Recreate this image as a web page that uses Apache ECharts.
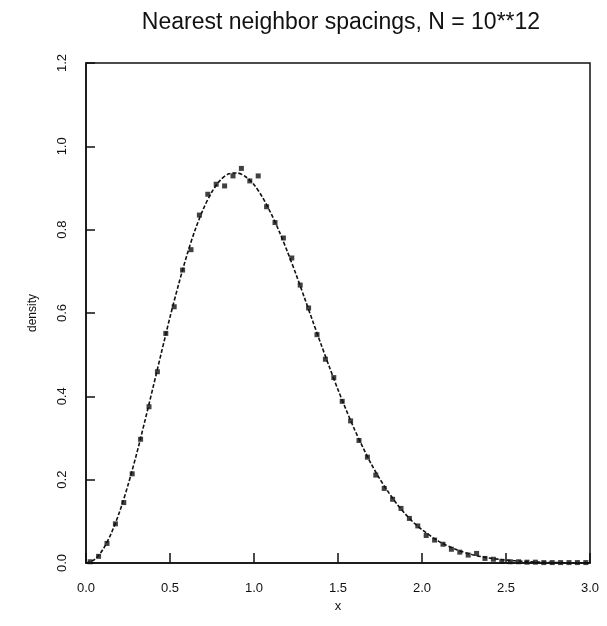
<!DOCTYPE html>
<html>
<head>
<meta charset="utf-8">
<script src="https://cdn.jsdelivr.net/npm/echarts@6/dist/echarts.min.js"></script>
<style>
  html, body { margin: 0; padding: 0; background: #fff; }
  #main { width: 607px; height: 626px; }
</style>
</head>
<body>
<div id="main"></div>
<script>
// fitted density curve
const curveX = [0, 0.05, 0.1, 0.15, 0.2, 0.25, 0.3, 0.35, 0.4, 0.45, 0.5, 0.55, 0.6, 0.65, 0.7, 0.75,
  0.8, 0.85, 0.9, 0.95, 1.0, 1.05, 1.1, 1.15, 1.2, 1.25, 1.3, 1.35, 1.4, 1.45, 1.5, 1.55, 1.6, 1.65,
  1.7, 1.75, 1.8, 1.85, 1.9, 1.95, 2.0, 2.1, 2.2, 2.3, 2.4, 2.5, 2.6, 2.7, 2.8, 2.9, 3.0];
const curveY = [0, 0.008, 0.032, 0.071, 0.123, 0.187, 0.26, 0.34, 0.423, 0.507, 0.59, 0.667, 0.738,
  0.8, 0.851, 0.891, 0.919, 0.934, 0.936, 0.927, 0.908, 0.878, 0.84, 0.796, 0.746, 0.693, 0.637,
  0.58, 0.524, 0.469, 0.416, 0.366, 0.319, 0.276, 0.236, 0.201, 0.17, 0.142, 0.118, 0.097, 0.08,
  0.052, 0.033, 0.02, 0.012, 0.007, 0.004, 0.002, 0.001, 0.0006, 0.0003];

// histogram points (bin centres)
const pointX = [0.025, 0.075, 0.125, 0.175, 0.225, 0.275, 0.325, 0.375, 0.425, 0.475, 0.525, 0.575,
  0.625, 0.675, 0.725, 0.775, 0.825, 0.875, 0.925, 0.975, 1.025, 1.075, 1.125, 1.175, 1.225, 1.275,
  1.325, 1.375, 1.425, 1.475, 1.525, 1.575, 1.625, 1.675, 1.725, 1.775, 1.825, 1.875, 1.925, 1.975,
  2.025, 2.075, 2.125, 2.175, 2.225, 2.275, 2.325, 2.375, 2.425, 2.475, 2.525, 2.575, 2.625, 2.675,
  2.725, 2.775, 2.825, 2.875, 2.925, 2.975];
const pointY = [0.003, 0.016, 0.047, 0.094, 0.145, 0.214, 0.297, 0.375, 0.459, 0.551, 0.615, 0.703,
  0.752, 0.835, 0.885, 0.909, 0.905, 0.929, 0.947, 0.917, 0.929, 0.855, 0.817, 0.78, 0.732, 0.667,
  0.612, 0.548, 0.489, 0.445, 0.388, 0.341, 0.294, 0.254, 0.211, 0.179, 0.153, 0.131, 0.107, 0.089,
  0.066, 0.055, 0.045, 0.033, 0.026, 0.019, 0.023, 0.011, 0.009, 0.004, 0.003, 0.003, 0.002, 0.002,
  0.001, 0.001, 0.001, 0.001, 0.001, 0.001];

const xTicks = [0, 0.5, 1.0, 1.5, 2.0, 2.5, 3.0];
const yTicks = [0, 0.2, 0.4, 0.6, 0.8, 1.0, 1.2];

const ink = "#111";
const font = "Liberation Sans, Arial, sans-serif";

let myChart = echarts.init(document.getElementById("main"), null, { renderer: "canvas" });

const curve = curveX.map((x, i) => [x, curveY[i]]);
const points = pointX.map((x, i) => [x, pointY[i]]);

let option = {
  backgroundColor: "#fff",
  animation: false,
  title: {
    text: "Nearest neighbor spacings, N = 10**12",
    left: 336,
    top: 6,
    textAlign: "center",
    textStyle: { color: ink, fontFamily: font, fontSize: 23, fontWeight: "normal" },
  },
  // plot box drawn by the grid border
  grid: { left: 86, right: 17, top: 63, bottom: 63, show: true, borderColor: ink, borderWidth: 1.5 },
  xAxis: {
    type: "value",
    min: 0,
    max: 3,
    interval: 0.5,
    name: "x",
    nameLocation: "middle",
    nameGap: 37,
    nameTextStyle: { color: ink, fontFamily: font, fontSize: 13 },
    axisLine: { show: true, lineStyle: { color: ink, width: 1.5 } },
    axisTick: { show: true, inside: true, length: 10, lineStyle: { color: ink, width: 1.5 } },
    axisLabel: {
      color: ink, fontFamily: font, fontSize: 13, margin: 19,
      formatter: (v) => xTicks.includes(v) ? v.toFixed(1) : "",
    },
    splitLine: { show: false },
  },
  yAxis: {
    type: "value",
    min: 0,
    max: 1.2,
    interval: 0.2,
    name: "density",
    nameLocation: "middle",
    nameGap: 47,
    nameTextStyle: { color: ink, fontFamily: font, fontSize: 12 },
    axisLine: { show: true, lineStyle: { color: ink, width: 1.5 } },
    axisTick: { show: true, inside: true, length: 9, lineStyle: { color: ink, width: 1.5 } },
    axisLabel: {
      color: ink, fontFamily: font, fontSize: 13, margin: 17, rotate: 90,
      formatter: (v) => {
        const t = yTicks.find((k) => Math.abs(k - v) < 1e-9);
        return t === undefined ? "" : t.toFixed(1);
      },
    },
    splitLine: { show: false },
  },
  series: [
    {
      type: "line",
      name: "curve",
      data: curve,
      smooth: 0.3,
      symbol: "none",
      lineStyle: { color: ink, width: 1.6, type: [4, 2] },
      z: 2,
    },
    {
      type: "scatter",
      name: "points",
      data: points,
      symbol: "rect",
      symbolSize: 5,
      itemStyle: { color: ink },
      z: 3,
    },
  ],
};

option && myChart.setOption(option);
</script>
</body>
</html>
